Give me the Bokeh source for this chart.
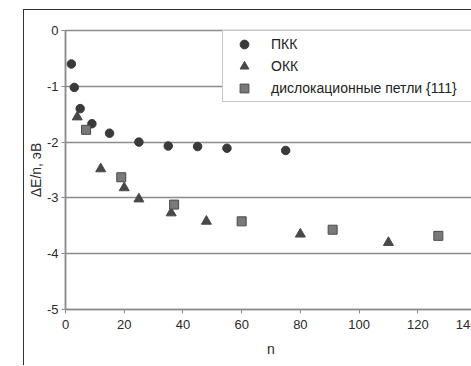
from bokeh.plotting import figure
from bokeh.models import FixedTicker, Range1d, Legend, LegendItem
from bokeh.embed import file_html
from bokeh.resources import INLINE

# Data
pkk_n = [2, 3, 5, 9, 15, 25, 35, 45, 55, 75]
pkk_e = [-0.6, -1.02, -1.4, -1.67, -1.84, -2.0, -2.07, -2.08, -2.11, -2.15]

okk_n = [4, 12, 20, 25, 36, 48, 80, 110]
okk_e = [-1.55, -2.48, -2.82, -3.02, -3.27, -3.42, -3.65, -3.8]

loop_n = [7, 19, 37, 60, 91, 127]
loop_e = [-1.78, -2.63, -3.12, -3.42, -3.57, -3.68]

legend_labels = ["ПКК", "ОКК", "дислокационные петли {111}"]
x_ticks = [0, 20, 40, 60, 80, 100, 120, 140]
y_ticks = [-5, -4, -3, -2, -1, 0]
y_tick_labels = {t: ("%d" % t) for t in y_ticks}

FONT = "Liberation Sans"

p = figure(width=454, height=356, output_backend="svg", toolbar_location=None,
           x_range=Range1d(0, 140), y_range=Range1d(-5, 0),
           min_border_left=38, min_border_top=20, min_border_right=2,
           min_border_bottom=57)
p.styles = {"margin-left": "23px", "margin-top": "9px",
            "border-left": "1px solid #333", "border-top": "1px solid #333"}

p.background_fill_color = "white"
p.border_fill_color = "white"
p.outline_line_color = "#8c8c8c"
p.outline_line_width = 1.5

p.xgrid.visible = False
p.ygrid.ticker = FixedTicker(ticks=y_ticks)
p.ygrid.grid_line_color = "#8c8c8c"
p.ygrid.grid_line_width = 1.5

for ax in (p.xaxis[0], p.yaxis[0]):
    ax.axis_line_color = "#8c8c8c"
    ax.axis_line_width = 1.5
    ax.major_tick_line_color = "#8c8c8c"
    ax.major_tick_in = 0
    ax.major_tick_out = 4
    ax.minor_tick_line_color = None
    ax.major_label_text_font = FONT
    ax.major_label_text_font_size = "13px"
    ax.major_label_text_color = "#2a2a2a"
    ax.axis_label_text_font = FONT
    ax.axis_label_text_font_size = "14px"
    ax.axis_label_text_font_style = "normal"
    ax.axis_label_text_color = "#2a2a2a"

p.xaxis.ticker = FixedTicker(ticks=x_ticks)
p.yaxis.ticker = FixedTicker(ticks=y_ticks)
p.yaxis.major_label_overrides = y_tick_labels
p.xaxis.axis_label = "n"
p.yaxis.axis_label = "ΔE/n, эВ"
p.xaxis.major_label_standoff = 6
p.xaxis.axis_label_standoff = 9
p.yaxis.major_label_standoff = 3
p.yaxis.axis_label_standoff = 0

r1 = p.scatter(pkk_n, pkk_e, marker="circle", size=8.5,
               fill_color="#3a3a3a", line_color="#3a3a3a")
r2 = p.scatter(okk_n, okk_e, marker="triangle", size=10,
               fill_color="#484848", line_color="#484848")
r3 = p.scatter(loop_n, loop_e, marker="square", size=9,
               fill_color="#7a7a7a", line_color="#4a4a4a")

legend = Legend(items=[LegendItem(label=legend_labels[0], renderers=[r1]),
                       LegendItem(label=legend_labels[1], renderers=[r2]),
                       LegendItem(label=legend_labels[2], renderers=[r3])],
                location="top_right", margin=0, padding=2, spacing=0,
                glyph_width=38, glyph_height=22, label_height=22,
                label_width=202, label_standoff=8,
                label_text_font=FONT, label_text_font_size="14px",
                label_text_color="#222222",
                border_line_color="#8c8c8c", border_line_width=1.5,
                background_fill_color="white", background_fill_alpha=1.0)
p.add_layout(legend)

open("out.html", "w").write(file_html(p, INLINE))
